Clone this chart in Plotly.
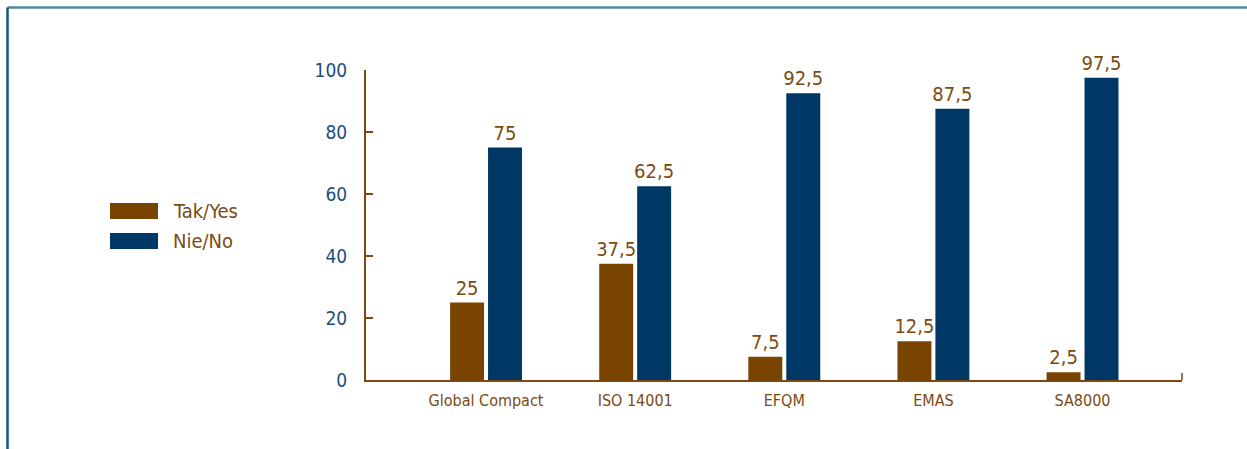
import plotly.graph_objects as go

categories = ["Global Compact", "ISO 14001", "EFQM", "EMAS", "SA8000"]
yes_values = [25, 37.5, 7.5, 12.5, 2.5]
no_values = [75, 62.5, 92.5, 87.5, 97.5]
series_names = ["Tak/Yes", "Nie/No"]
y_ticks = [0, 20, 40, 60, 80, 100]

BROWN = "#784400"
BLUE = "#003865"
TEXT_BROWN = "#7a4a12"
TICK_BLUE = "#1d4e7e"
FONT = "Liberation Sans Narrow, DejaVu Sans Condensed, Arial Narrow, sans-serif"

W, H = 1247, 449
L, R, T, B = 366, 65, 70, 69
pw, ph = W - L - R, H - T - B


def px2x(px):
    return (px - L) / pw


def px2y(py):
    return (H - B - py) / ph


def fmt(v):
    s = f"{v:g}"
    return s.replace(".", ",")


fig = go.Figure()
for name, vals, col in [(series_names[0], yes_values, BROWN), (series_names[1], no_values, BLUE)]:
    fig.add_trace(go.Bar(
        x=categories, y=vals, name=name, marker=dict(color=col, line=dict(width=0)),
        text=[fmt(v) for v in vals], textposition="outside",
        textfont=dict(family=FONT, size=20, color=TEXT_BROWN),
        constraintext="none", cliponaxis=False, showlegend=False,
    ))

shapes = [
    # frame lines
    dict(type="line", xref="paper", yref="paper", x0=px2x(7.5), x1=px2x(1250), y0=px2y(7.5), y1=px2y(7.5),
         line=dict(color="#4f8a9c", width=2.5)),
    dict(type="line", xref="paper", yref="paper", x0=px2x(7.5), x1=px2x(7.5), y0=px2y(7.5), y1=px2y(452),
         line=dict(color="#0e5a78", width=2.5)),
    # right end tick on x axis
    dict(type="line", xref="paper", yref="paper", x0=1, x1=1, y0=0, y1=px2y(373),
         line=dict(color=TEXT_BROWN, width=1.5)),
]
annotations = []
legend_rows = [(203, 219, BROWN), (233, 249, BLUE)]
for (y0, y1, col), name in zip(legend_rows, series_names):
    shapes.append(dict(type="rect", xref="paper", yref="paper", x0=px2x(110), x1=px2x(158),
                       y0=px2y(y1), y1=px2y(y0), fillcolor=col, line=dict(width=0)))
    annotations.append(dict(xref="paper", yref="paper", x=px2x(171), y=px2y((y0 + y1) / 2),
                            text=name, showarrow=False, xanchor="left", yanchor="middle",
                            font=dict(family=FONT, size=20, color=TEXT_BROWN)))

fig.update_layout(
    width=W, height=H, margin=dict(l=L, r=R, t=T, b=B),
    paper_bgcolor="white", plot_bgcolor="white",
    barmode="group", bargap=0.491, bargroupgap=0.105,
    shapes=shapes, annotations=annotations,
    xaxis=dict(type="category", range=[-0.805, 4.667], showline=True, linecolor=TEXT_BROWN, linewidth=2,
               ticks="", showgrid=False, zeroline=False,
               tickfont=dict(family=FONT, size=16, color=TEXT_BROWN), ticklabelstandoff=5),
    yaxis=dict(range=[0, 100], tickvals=y_ticks, showline=True, linecolor=TEXT_BROWN, linewidth=2,
               ticks="inside", ticklen=7, tickwidth=1.5, tickcolor=TEXT_BROWN,
               showgrid=False, zeroline=False,
               tickfont=dict(family=FONT, size=19, color=TICK_BLUE), ticklabelstandoff=13),
)

fig.write_html("out.html")
